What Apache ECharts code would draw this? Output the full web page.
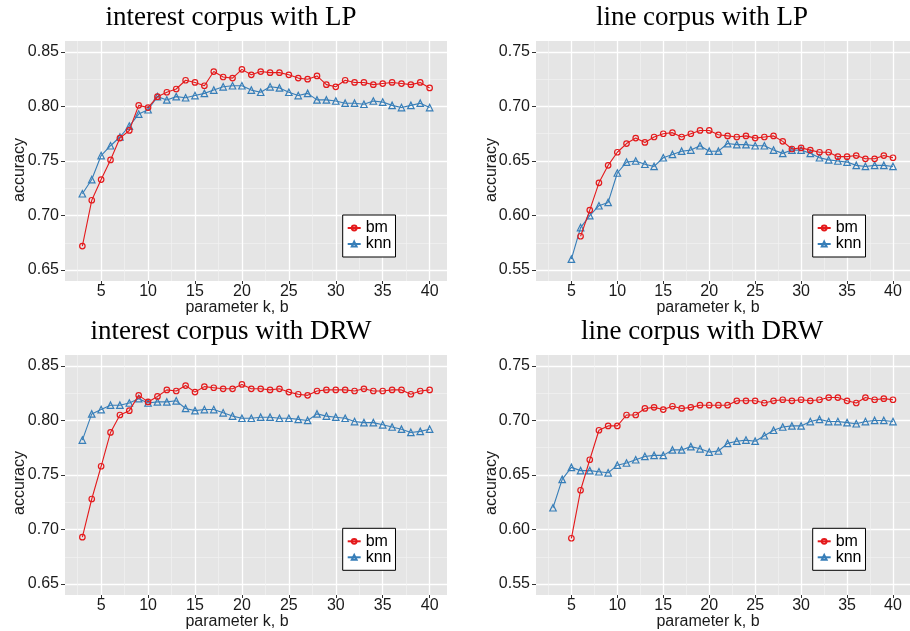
<!DOCTYPE html>
<html><head><meta charset="utf-8">
<script src="https://cdn.jsdelivr.net/npm/echarts@6/dist/echarts.min.js"></script>
<style>html,body{margin:0;padding:0;background:#fff}#c{width:910px;height:631px}</style>
</head><body><div id="c"></div>
<script>
// ---- data ----
const panelTitles = ["interest corpus with LP", "line corpus with LP", "interest corpus with DRW", "line corpus with DRW"];
const seriesNames = ["bm", "knn"];
const xTickLabels = [5, 10, 15, 20, 25, 30, 35, 40];
const xMinorTicks = [2.5, 7.5, 12.5, 17.5, 22.5, 27.5, 32.5, 37.5];
const yTickInterest = [0.65, 0.70, 0.75, 0.80, 0.85];
const yMinorInterest = [0.675, 0.725, 0.775, 0.825];
const yTickLine = [0.55, 0.60, 0.65, 0.70, 0.75];
const yMinorLine = [0.575, 0.625, 0.675, 0.725];

const bmStart = [3, 6, 3, 5];
const knnStart = [3, 5, 3, 3];

const bmInterestLP = [0.672,0.714,0.733,0.751,0.771,0.778,0.801,0.799,0.809,0.813,0.816,0.824,0.822,0.819,0.832,0.827,0.826,0.834,0.829,0.832,0.831,0.831,0.829,0.826,0.825,0.828,0.820,0.818,0.824,0.822,0.822,0.820,0.821,0.822,0.821,0.820,0.822,0.817];
const knnInterestLP = [0.720,0.733,0.755,0.764,0.772,0.782,0.793,0.797,0.809,0.806,0.809,0.808,0.810,0.812,0.815,0.818,0.819,0.819,0.815,0.813,0.818,0.817,0.813,0.810,0.812,0.806,0.806,0.805,0.803,0.803,0.802,0.805,0.804,0.801,0.799,0.801,0.803,0.799];
const bmLineLP = [0.581,0.605,0.630,0.646,0.658,0.666,0.671,0.667,0.672,0.675,0.676,0.672,0.675,0.678,0.678,0.674,0.673,0.672,0.673,0.671,0.672,0.673,0.668,0.661,0.662,0.660,0.658,0.658,0.654,0.654,0.655,0.652,0.652,0.655,0.653];
const knnLineLP = [0.560,0.589,0.600,0.609,0.612,0.639,0.649,0.650,0.647,0.645,0.653,0.656,0.659,0.660,0.664,0.659,0.659,0.666,0.665,0.665,0.664,0.664,0.660,0.657,0.660,0.660,0.657,0.653,0.651,0.650,0.649,0.646,0.645,0.646,0.646,0.645];
const bmInterestDRW = [0.693,0.728,0.758,0.789,0.805,0.809,0.823,0.817,0.822,0.828,0.827,0.832,0.826,0.831,0.830,0.829,0.829,0.833,0.829,0.829,0.828,0.829,0.826,0.824,0.823,0.827,0.828,0.828,0.828,0.827,0.829,0.827,0.827,0.828,0.828,0.824,0.827,0.828];
const knnInterestDRW = [0.782,0.806,0.810,0.814,0.814,0.816,0.820,0.816,0.817,0.817,0.818,0.811,0.809,0.810,0.810,0.807,0.804,0.802,0.802,0.803,0.803,0.802,0.802,0.801,0.800,0.806,0.804,0.803,0.802,0.799,0.798,0.798,0.796,0.794,0.792,0.789,0.790,0.792];
const bmLineDRW = [0.592,0.636,0.664,0.691,0.695,0.695,0.705,0.705,0.711,0.712,0.710,0.713,0.711,0.712,0.714,0.714,0.714,0.714,0.718,0.718,0.718,0.716,0.718,0.719,0.718,0.719,0.718,0.719,0.721,0.721,0.718,0.716,0.721,0.719,0.720,0.719];
const knnLineDRW = [0.620,0.646,0.657,0.654,0.654,0.653,0.652,0.659,0.661,0.664,0.667,0.668,0.668,0.673,0.673,0.676,0.674,0.671,0.672,0.679,0.681,0.682,0.681,0.686,0.691,0.694,0.695,0.695,0.699,0.701,0.699,0.699,0.698,0.697,0.699,0.700,0.700,0.699];

const bmData = [bmInterestLP, bmLineLP, bmInterestDRW, bmLineDRW];
const knnData = [knnInterestLP, knnLineLP, knnInterestDRW, knnLineDRW];
const yTicks = [yTickInterest, yTickLine, yTickInterest, yTickLine];
const yMinors = [yMinorInterest, yMinorLine, yMinorInterest, yMinorLine];
const yRange = [[0.64, 0.86], [0.54, 0.76], [0.64, 0.86], [0.54, 0.76]];
const xRange = [1.15, 41.85];

// ---- layout / style ----
const gridPos = [[65, 41], [536, 41], [65, 355], [536, 355]];
const GW = 382, GH = 240;
const legendPos = [[342.7, 215], [812.7, 215], [342.7, 528.3], [812.7, 528.3]];
const titlePos = [[231, 18], [702, 18], [231, 332], [702, 332]];
const xNamePos = [[237, 308], [708, 308], [237, 622], [708, 622]];
const yNamePos = [[20, 170], [492, 170], [20, 483], [492, 483]];
const RED = '#E41A1C', BLUE = '#377EB8';
const SANS = '"Liberation Sans", Arial, sans-serif';
const SERIF = '"Liberation Serif", "Times New Roman", serif';

const grid = [], xAxis = [], yAxis = [], series = [], legend = [], graphic = [];
for (let p = 0; p < 4; p++) {
  grid.push({left: gridPos[p][0], top: gridPos[p][1], width: GW, height: GH,
    show: true, backgroundColor: '#E5E5E5', borderWidth: 0, containLabel: false});
  xAxis.push({type: 'value', gridIndex: p, min: xRange[0], max: xRange[1],
    axisLine: {show: false},
    axisTick: {show: true, customValues: xTickLabels, length: 3, lineStyle: {color: '#333', width: 1}},
    axisLabel: {customValues: xTickLabels, fontSize: 16, fontFamily: SANS, color: '#1a1a1a', margin: 3},
    splitLine: {show: true, lineStyle: {color: '#ffffff', width: 1.3}}});
  xAxis.push({type: 'value', gridIndex: p, min: xRange[0], max: xRange[1],
    axisLine: {show: false},
    axisTick: {show: false, customValues: xMinorTicks},
    axisLabel: {show: false, customValues: xMinorTicks},
    splitLine: {show: true, lineStyle: {color: '#F2F2F2', width: 0.7}}});
  yAxis.push({type: 'value', gridIndex: p, min: yRange[p][0], max: yRange[p][1],
    axisLine: {show: false},
    axisTick: {show: true, customValues: yTicks[p], length: 4, lineStyle: {color: '#333', width: 1}},
    axisLabel: {customValues: yTicks[p], fontSize: 16, fontFamily: SANS, color: '#1a1a1a', margin: 6,
      formatter: v => v.toFixed(2)},
    splitLine: {show: true, lineStyle: {color: '#ffffff', width: 1.3}}});
  yAxis.push({type: 'value', gridIndex: p, min: yRange[p][0], max: yRange[p][1],
    position: 'left',
    axisLine: {show: false},
    axisTick: {show: false, customValues: yMinors[p]},
    axisLabel: {show: false, customValues: yMinors[p]},
    splitLine: {show: true, lineStyle: {color: '#F2F2F2', width: 0.7}}});
  series.push({type: 'line', name: seriesNames[0], xAxisIndex: 2 * p, yAxisIndex: 2 * p,
    data: bmData[p].map((v, i) => [bmStart[p] + i, v]),
    symbol: 'circle', symbolSize: 5.5, showAllSymbol: true, color: RED,
    lineStyle: {color: RED, width: 1.1},
    itemStyle: {color: 'rgba(255,255,255,0)', borderColor: RED, borderWidth: 1.2},
    emphasis: {disabled: true}, z: 3});
  series.push({type: 'line', name: seriesNames[1], xAxisIndex: 2 * p, yAxisIndex: 2 * p,
    data: knnData[p].map((v, i) => [knnStart[p] + i, v]),
    symbol: 'triangle', symbolSize: 6.5, showAllSymbol: true, color: BLUE,
    lineStyle: {color: BLUE, width: 1.1},
    itemStyle: {color: 'rgba(255,255,255,0)', borderColor: BLUE, borderWidth: 1.2},
    emphasis: {disabled: true}, z: 2});
  legend.push({left: legendPos[p][0], top: legendPos[p][1], orient: 'vertical',
    data: seriesNames, selectedMode: false,
    borderColor: '#000', borderWidth: 1, backgroundColor: '#fff', borderRadius: 0,
    padding: [5, 4, 5, 4], itemGap: 0, itemWidth: 13, itemHeight: 6,
    textStyle: {fontSize: 16, fontFamily: SANS, color: '#000', lineHeight: 14}});
  graphic.push({type: 'text', x: titlePos[p][0], y: titlePos[p][1],
    style: {text: panelTitles[p], fontSize: 27, fontFamily: SERIF, fill: '#000', align: 'center', verticalAlign: 'middle'}});
  graphic.push({type: 'text', x: xNamePos[p][0], y: xNamePos[p][1],
    style: {text: 'parameter k, b', fontSize: 16, fontFamily: SANS, fill: '#1a1a1a', align: 'center', verticalAlign: 'middle'}});
  graphic.push({type: 'text', x: yNamePos[p][0], y: yNamePos[p][1], rotation: Math.PI / 2,
    style: {text: 'accuracy', fontSize: 16, fontFamily: SANS, fill: '#1a1a1a', align: 'center', verticalAlign: 'middle'}});
}

const chart = echarts.init(document.getElementById('c'), null, {renderer: 'canvas'});
chart.setOption({animation: false, backgroundColor: '#fff', grid, xAxis, yAxis, series, legend, graphic});
</script>
</body></html>
